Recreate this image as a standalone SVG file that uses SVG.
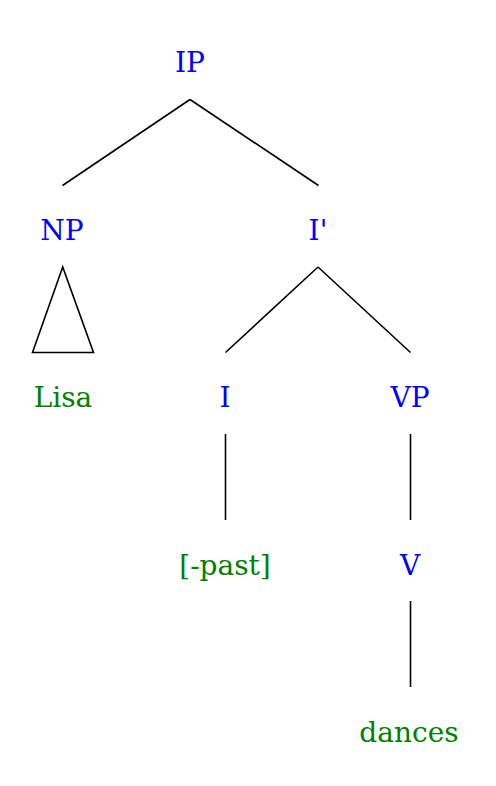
<svg xmlns="http://www.w3.org/2000/svg" width="496" height="786" viewBox="0 0 496 786">
<style>
text{font-family:"DejaVu Serif","Liberation Serif",serif;font-size:28px;text-anchor:middle}
.cat{fill:#0000ff}
.word{fill:#008000}
.edge{stroke:#000;stroke-width:1.6;fill:none}
</style>
<rect width="496" height="786" fill="#fff"/>
<g id="connectors">
<line class="edge" x1="190" y1="99.5" x2="62.5" y2="185.5"/>
<line class="edge" x1="190" y1="99.5" x2="318.5" y2="185.5"/>
<polygon class="edge" points="62.7,267 32.5,352.5 93.5,352.5"/>
<line class="edge" x1="318" y1="267" x2="225.5" y2="352.5"/>
<line class="edge" x1="318" y1="267" x2="410.5" y2="352.5"/>
<line class="edge" x1="225.5" y1="434" x2="225.5" y2="520"/>
<line class="edge" x1="410.5" y1="434" x2="410.5" y2="520"/>
<line class="edge" x1="410.5" y1="601" x2="410.5" y2="687"/>
</g>
<g id="IP"><text class="cat" x="190" y="72">IP</text></g>
<g id="NP"><text class="cat" x="62" y="240">NP</text></g>
<g id="Ibar"><text class="cat" x="318" y="240">I'</text></g>
<g id="Lisa"><text class="word" x="63" y="407">Lisa</text></g>
<g id="I"><text class="cat" x="225" y="407">I</text></g>
<g id="VP"><text class="cat" x="410" y="407">VP</text></g>
<g id="past"><text class="word" x="225" y="575">[-past]</text></g>
<g id="V"><text class="cat" x="410" y="575">V</text></g>
<g id="dances"><text class="word" x="409" y="742">dances</text></g>
</svg>
